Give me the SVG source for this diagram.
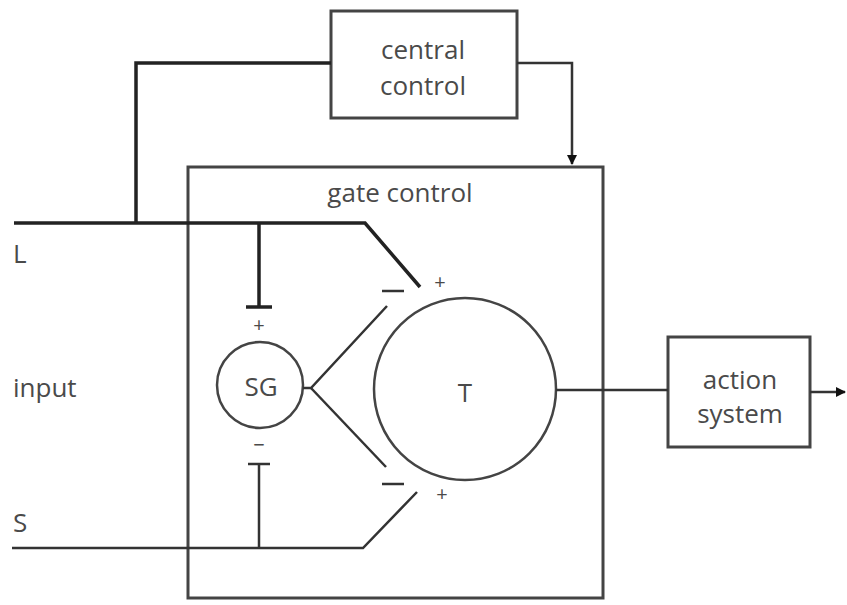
<svg xmlns="http://www.w3.org/2000/svg" width="847" height="605" viewBox="0 0 847 605">
<defs>
<style>
.ln{fill:none;stroke:#333;stroke-width:2.5}
.thick{fill:none;stroke:#222;stroke-width:3.5}
.box{fill:#fff;stroke:#444;stroke-width:3}
.t{font-family:"Open Sans","Liberation Sans",sans-serif;font-size:26px;fill:#4a4a4a}
.s{font-family:"Open Sans","Liberation Sans",sans-serif;font-size:20px;fill:#4a4a4a}
</style>
<marker id="arr" viewBox="0 0 10 10" refX="9" refY="5" markerWidth="4" markerHeight="4" orient="auto-start-reverse">
<path d="M0,0 L10,5 L0,10 z" fill="#111"/>
</marker>
</defs>
<rect width="847" height="605" fill="#fff"/>
<g id="gate-control">
<rect class="box" x="188" y="167" width="415" height="431" fill="none"/>
<text class="t" x="400" y="202" text-anchor="middle">gate control</text>
</g>
<g id="central-control">
<rect class="box" x="331" y="11" width="186" height="107"/>
<text class="t" x="423" y="59" text-anchor="middle">central</text>
<text class="t" x="423" y="95" text-anchor="middle">control</text>
</g>
<g id="action-system">
<rect class="box" x="668" y="337" width="142" height="110"/>
<text class="t" x="740" y="389" text-anchor="middle">action</text>
<text class="t" x="740" y="423" text-anchor="middle">system</text>
</g>
<g id="T">
<circle cx="465" cy="389" r="91" fill="none" stroke="#444" stroke-width="2.5"/>
<text class="t" x="465" y="402" text-anchor="middle">T</text>
</g>
<g id="SG">
<circle cx="260" cy="385" r="43" fill="none" stroke="#444" stroke-width="2.5"/>
<text class="t" x="261" y="396" text-anchor="middle">SG</text>
</g>
<g id="labels">
<text class="t" x="13" y="263">L</text>
<text class="t" x="13" y="397">input</text>
<text class="t" x="13" y="532">S</text>
<text class="s" x="259" y="332" text-anchor="middle">+</text>
<text class="s" x="259" y="452" text-anchor="middle">−</text>
<text class="s" x="440" y="289" text-anchor="middle">+</text>
<text class="s" x="442" y="501" text-anchor="middle">+</text>
</g>
<g id="connectors">
<path class="thick" d="M14,223 H365 L420,287"/>
<path class="thick" d="M331,63 H136 V223"/>
<path class="thick" d="M259,223 V307"/>
<path class="thick" d="M246,307 H272"/>
<path class="ln" d="M517,63 H572 V164" marker-end="url(#arr)"/>
<path class="ln" d="M12,548 H363 L417,492"/>
<path class="ln" d="M259,548 V464"/>
<path class="ln" d="M248,464 H270"/>
<path class="ln" d="M303,388 H311 L387,306"/>
<path class="ln" d="M311,388 L386,467"/>
<path class="ln" d="M382,291 H404"/>
<path class="ln" d="M382,484 H404"/>
<path class="ln" d="M556,390 H668"/>
<path class="ln" d="M810,392 H845" marker-end="url(#arr)"/>
</g>
</svg>
